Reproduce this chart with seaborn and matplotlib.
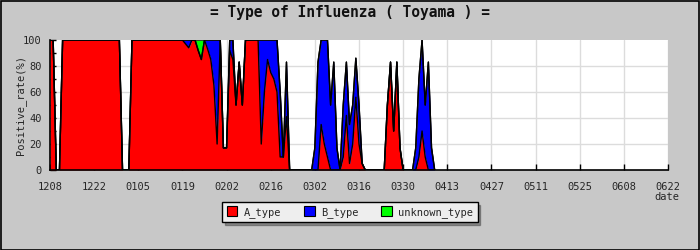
import matplotlib
matplotlib.use("Agg")
import matplotlib.pyplot as plt
from matplotlib.patches import Rectangle, Patch
import seaborn as sns
import numpy as np
import pandas as pd

# ---- data (daily positive rate, %, from 2009-12-08) ----
start_date = "2009-12-08"
A_type = [
    100, 100, 0, 0, 100, 100, 100, 100, 100, 100,
    100, 100, 100, 100, 100, 100, 100, 100, 100, 100,
    100, 100, 100, 0, 0, 0, 100, 100, 100, 100,
    100, 100, 100, 100, 100, 100, 100, 100, 100, 100,
    100, 100, 100, 97, 94, 100, 100, 92, 85, 100,
    93, 85, 65, 20, 100, 17, 17, 92, 85, 50,
    83, 50, 100, 100, 100, 100, 100, 20, 60, 85,
    75, 70, 60, 10, 10, 41, 0, 0, 0, 0,
    0, 0, 0, 0, 0, 0, 35, 20, 10, 0,
    0, 0, 0, 10, 42, 5, 20, 56, 20, 5,
    0, 0, 0, 0, 0, 0, 0, 50, 83, 30,
    83, 17, 0, 0, 0, 0, 0, 10, 30, 10,
    0, 0, 0,
]
B_type = [
    0, 0, 0, 0, 0, 0, 0, 0, 0, 0,
    0, 0, 0, 0, 0, 0, 0, 0, 0, 0,
    0, 0, 0, 0, 0, 0, 0, 0, 0, 0,
    0, 0, 0, 0, 0, 0, 0, 0, 0, 0,
    0, 0, 0, 3, 6, 0, 0, 0, 0, 0,
    7, 15, 35, 80, 0, 0, 0, 8, 15, 0,
    0, 0, 0, 0, 0, 0, 0, 80, 40, 15,
    25, 30, 40, 50, 0, 42, 0, 0, 0, 0,
    0, 0, 0, 0, 17, 83, 65, 80, 90, 50,
    83, 17, 0, 40, 41, 30, 30, 30, 30, 0,
    0, 0, 0, 0, 0, 0, 0, 0, 0, 0,
    0, 0, 0, 0, 0, 0, 17, 60, 70, 40,
    83, 17, 0,
]
unknown_type = [
    0, 0, 0, 0, 0, 0, 0, 0, 0, 0,
    0, 0, 0, 0, 0, 0, 0, 0, 0, 0,
    0, 0, 0, 0, 0, 0, 0, 0, 0, 0,
    0, 0, 0, 0, 0, 0, 0, 0, 0, 0,
    0, 0, 0, 0, 0, 0, 0, 8, 15, 0,
    0, 0, 0, 0, 0, 0, 0, 0, 0, 0,
    0, 0, 0, 0, 0, 0, 0, 0, 0, 0,
    0, 0, 0, 0, 0, 0, 0, 0, 0, 0,
    0, 0, 0, 0, 0, 0, 0, 0, 0, 0,
    0, 0, 0, 0, 0, 0, 0, 0, 0, 0,
    0, 0, 0, 0, 0, 0, 0, 0, 0, 0,
    0, 0, 0, 0, 0, 0, 0, 0, 0, 0,
    0, 0, 0,
]
series_names = ["A_type", "B_type", "unknown_type"]
series_colors = ["#ff0000", "#0000ff", "#00ff00"]
tick_labels = ["1208", "1222", "0105", "0119", "0202", "0216", "0302", "0316",
               "0330", "0413", "0427", "0511", "0525", "0608", "0622"]
x_end = "2010-06-22"

dates = pd.date_range(start_date, periods=len(A_type), freq="D")
df = pd.DataFrame({"date": dates, "A_type": A_type, "B_type": B_type,
                   "unknown_type": unknown_type})
df["c1"] = df["A_type"]
df["c2"] = df["c1"] + df["B_type"]
df["c3"] = df["c2"] + df["unknown_type"]

sns.set_theme(style="white")
mono = ["DejaVu Sans Mono", "DejaVu Sans"]
plt.rcParams["font.family"] = mono

bg = "#c8c8c8"
fig = plt.figure(figsize=(7, 2.5), dpi=100, facecolor=bg)
ax = fig.add_axes([50 / 700, 80 / 250, 618 / 700, 130 / 250])
ax.set_facecolor("white")

# grid
tick_dates = pd.date_range(start_date, x_end, freq="14D")
for yv in [20, 40, 60, 80]:
    ax.axhline(yv, color="#dcdcdc", lw=1, zorder=0)
for td in tick_dates[1:]:
    ax.axvline(td, color="#dcdcdc", lw=1, zorder=0)

lower = [np.zeros(len(df)), df["c1"].values, df["c2"].values]
upper = [df["c1"].values, df["c2"].values, df["c3"].values]
for lo, hi, col in zip(lower, upper, series_colors):
    ax.fill_between(df["date"], lo, hi, color=col, lw=0, zorder=2)
for c in ["c1", "c2", "c3"]:
    sns.lineplot(data=df, x="date", y=c, color="black", lw=1, ax=ax, zorder=3)

ax.set_xlim(pd.Timestamp(start_date), pd.Timestamp(x_end))
ax.set_ylim(0, 100)
ax.set_xticks(tick_dates)
ax.set_xticklabels(tick_labels, fontsize=7.5)
ax.set_yticks([0, 20, 40, 60, 80, 100])
ax.set_yticklabels(["0", "20", "40", "60", "80", "100"], fontsize=7.5)
ax.set_yticks([10, 30, 50, 70, 90], minor=True)
ax.tick_params(axis="both", which="both", direction="in", length=4,
               width=1, color="black", left=True, bottom=True)
ax.tick_params(axis="x", which="both", pad=9)
ax.tick_params(axis="y", which="both", pad=6)
ax.set_xlabel("")
ax.set_ylabel("")
for s in ["top", "right"]:
    ax.spines[s].set_visible(False)
for s in ["left", "bottom"]:
    ax.spines[s].set_color("black")
    ax.spines[s].set_linewidth(1.2)
    ax.spines[s].set_zorder(5)

fig.text(0.5, 0.952, "= Type of Influenza ( Toyama ) =", ha="center",
         va="center", fontsize=10.5, fontweight="bold", color="#111111")
fig.text(0.03, 0.58, "Positive_rate(%)", rotation=90, ha="center",
         va="center", fontsize=7.5)
fig.text(0.953, 0.214, "date", ha="center", va="center", fontsize=7.5)

handles = [Patch(facecolor=c, edgecolor="black", lw=0.8) for c in series_colors]
leg = fig.legend(handles, series_names, loc="center", ncol=3,
                 bbox_to_anchor=(0.5, 0.152), fontsize=7.5, frameon=True,
                 fancybox=False, shadow=True, framealpha=1,
                 handlelength=1.0, handleheight=1.0, columnspacing=2.2,
                 handletextpad=0.6, borderpad=0.45, borderaxespad=0.6)
leg.get_frame().set_facecolor("#eeeeee")
leg.get_frame().set_edgecolor("black")

fig.patches.append(Rectangle((0.001, 0.002), 0.997, 0.995, transform=fig.transFigure,
                             fill=False, edgecolor="black", lw=1.2))

fig.savefig("out.png", dpi=100, facecolor=bg)
